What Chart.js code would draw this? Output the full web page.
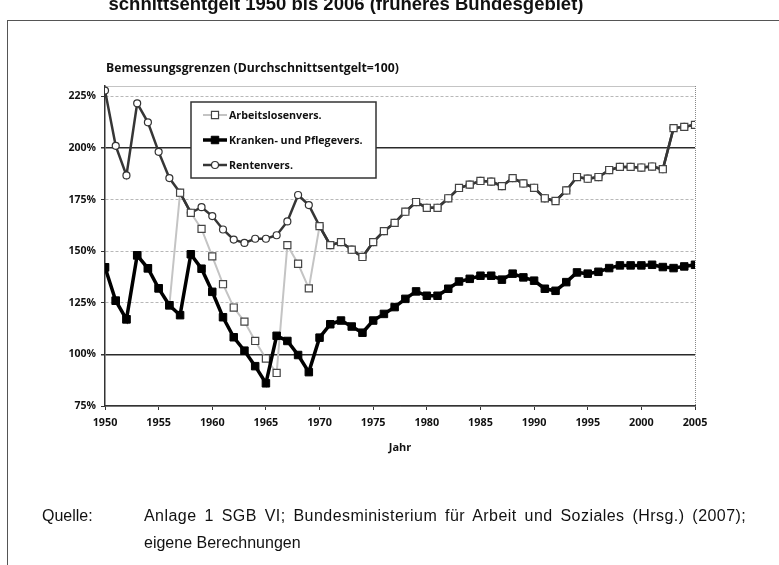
<!DOCTYPE html>
<html>
<head>
<meta charset="utf-8">
<script src="https://cdn.jsdelivr.net/npm/chart.js@4/dist/chart.umd.min.js"></script>
<style>
  body { margin: 0; background: #fff; }
  #wrap { position: relative; width: 779px; height: 565px; overflow: hidden; }
  canvas { position: absolute; left: 0; top: 0; }
  .txt { position: absolute; white-space: nowrap; color: #111; }
  #head { left: 0; width: 692px; text-align: center; top: -5px; font: bold 18.5px/18.5px "Liberation Sans", Arial, sans-serif; }
  #frameTop { position: absolute; left: 7px; top: 20px; width: 772px; height: 0; border-top: 1.5px solid #555; }
  #frameLeft { position: absolute; left: 7px; top: 20px; width: 0; height: 545px; border-left: 1.5px solid #555; }
  #sub { left: 106px; top: 59px; font: bold 12.2px "Open Sans", sans-serif; }
  #quelle { left: 42px; top: 502px; font: 16px/27px "Liberation Sans", Arial, sans-serif; }
  #quelle span { display: inline-block; width: 102px; }
  #quelle .l1 { letter-spacing: 0.45px; word-spacing: 3px; }
  #quelle .ind { padding-left: 102px; }
</style>
</head>
<body>
<div id="wrap">
  <canvas id="chart" width="779" height="565"></canvas>
  <div class="txt" id="head">schnittsentgelt 1950 bis 2006 (früheres Bundesgebiet)</div>
  <div id="frameTop"></div>
  <div id="frameLeft"></div>
  <div class="txt" id="sub">Bemessungsgrenzen (Durchschnittsentgelt=100)</div>
  <div class="txt" id="quelle"><span>Quelle:</span><span class="l1" style="width:auto">Anlage 1 SGB VI; Bundesministerium für Arbeit und Soziales (Hrsg.) (2007);</span><br><div class="ind">eigene Berechnungen</div></div>
</div>
<script>
// Jahre 1950-2005
const years = [];
for (let y = 1950; y <= 2005; y++) years.push(y);

// Werte in % des Durchschnittsentgelts
const renten = [227.8, 201, 186.7, 221.6, 212.4, 198.1, 185.4, 178.3, 168.6, 171.3,
  167, 160.5, 155.6, 154, 156, 156, 157.7, 164.4, 177.2, 172.3,
  162.1, 152.9, 154.4, 150.7, 147.2, 154.4, 159.7, 163.7, 169.1, 173.8,
  171, 171, 175.6, 180.6, 182.2, 184, 183.7, 181.5, 185.4, 182.8,
  180.7, 175.6, 174.3, 179.4, 185.9, 185.1, 185.9, 189.3, 190.8, 190.8,
  190.5, 191, 189.7, 209.6, 210.2, 211.2];

const kranken = [142.2, 126, 117, 148, 141.7, 132, 123.8, 119, 148.5, 141.5,
  130.3, 118, 108.3, 101.8, 94.3, 86, 109, 106.5, 99.7, 91.4,
  108.1, 114.6, 116.4, 113.5, 110.5, 116.4, 119.6, 122.9, 126.9, 130.5,
  128.4, 128.4, 131.8, 135.3, 136.6, 138.1, 138.1, 136.2, 139.1, 137.3,
  135.7, 131.8, 130.8, 135, 139.7, 139.1, 140, 141.8, 143.1, 143.1,
  143.1, 143.4, 142.3, 141.8, 142.6, 143.4];

const arbeitslosen = [142.2, 126, 117, 148, 141.7, 132, 123.8, 178.3, 168.6, 160.8,
  147.5, 134, 122.7, 115.9, 106.5, 98, 91, 152.9, 143.9, 132,
  162.1, 152.9, 154.4, 150.7, 147.2, 154.4, 159.7, 163.7, 169.1, 173.8,
  171, 171, 175.6, 180.6, 182.2, 184, 183.7, 181.5, 185.4, 182.8,
  180.7, 175.6, 174.3, 179.4, 185.9, 185.1, 185.9, 189.3, 190.8, 190.8,
  190.5, 191, 189.7, 209.6, 210.2, 211.2];

const seriesNames = ['Arbeitslosenvers.', 'Kranken- und Pflegevers.', 'Rentenvers.'];

const yTicks = [75, 100, 125, 150, 175, 200, 225];

const pts = arr => arr.map((v, i) => ({ x: years[i], y: v }));

const DARK = '#363636';
const LIGHT = '#c4c4c4';
const FONT = '"Open Sans"';

// Legende im Diagramm
const legendBox = {
  id: 'legendBox',
  afterDatasetsDraw(chart) {
    const ctx = chart.ctx;
    ctx.save();
    ctx.fillStyle = '#fff';
    ctx.strokeStyle = '#333';
    ctx.lineWidth = 1.5;
    ctx.fillRect(191, 102, 185, 76);
    ctx.strokeRect(191, 102, 185, 76);
    const rows = [115, 140, 165];
    [0, 1, 2].forEach((di, k) => {
      const ds = chart.data.datasets[di];
      const y = rows[k];
      ctx.beginPath();
      ctx.strokeStyle = ds.legendLine;
      ctx.lineWidth = ds.borderWidth;
      ctx.moveTo(203, y);
      ctx.lineTo(227, y);
      ctx.stroke();
      ctx.lineWidth = ds.pointBorderWidth;
      ctx.strokeStyle = ds.pointBorderColor;
      ctx.fillStyle = ds.pointBackgroundColor;
      ctx.beginPath();
      if (ds.pointStyle === 'circle') {
        ctx.arc(215, y, ds.pointRadius, 0, Math.PI * 2);
      } else {
        const s = ds.pointRadius * Math.SQRT1_2;
        ctx.rect(215 - s, y - s, 2 * s, 2 * s);
      }
      ctx.fill();
      ctx.stroke();
      ctx.fillStyle = '#111';
      ctx.font = 'bold 10.7px ' + FONT;
      ctx.textBaseline = 'middle';
      ctx.textAlign = 'left';
      ctx.fillText(seriesNames[di], 229, y + 1);
    });
    ctx.restore();
  }
};

new Chart(document.getElementById('chart'), {
  type: 'line',
  data: {
    datasets: [
      {
        label: seriesNames[0],
        data: pts(arbeitslosen),
        borderColor: LIGHT,
        legendLine: LIGHT,
        borderWidth: 2,
        segment: {
          borderColor: c => (arbeitslosen[c.p0DataIndex] === renten[c.p0DataIndex] &&
            arbeitslosen[c.p1DataIndex] === renten[c.p1DataIndex]) ? DARK : LIGHT,
          borderWidth: c => (arbeitslosen[c.p0DataIndex] === renten[c.p0DataIndex] &&
            arbeitslosen[c.p1DataIndex] === renten[c.p1DataIndex]) ? 2.5 : 2
        },
        pointStyle: 'rect',
        pointRadius: 5,
        pointBorderWidth: 1.2,
        pointBorderColor: '#444',
        pointBackgroundColor: '#fff',
        tension: 0,
        order: 2
      },
      {
        label: seriesNames[1],
        data: pts(kranken),
        borderColor: '#000',
        legendLine: '#000',
        borderWidth: 3.5,
        pointStyle: 'rect',
        pointRadius: 5.3,
        pointBorderWidth: 1,
        pointBorderColor: '#000',
        pointBackgroundColor: '#000',
        tension: 0,
        order: 1
      },
      {
        label: seriesNames[2],
        data: pts(renten),
        borderColor: DARK,
        legendLine: DARK,
        borderWidth: 2.5,
        pointStyle: 'circle',
        pointRadius: 3.5,
        pointBorderWidth: 1.2,
        pointBorderColor: '#333',
        pointBackgroundColor: '#fff',
        tension: 0,
        order: 3
      }
    ]
  },
  options: {
    responsive: false,
    devicePixelRatio: 1,
    animation: false,
    layout: { padding: { left: 0, right: 84, top: 86, bottom: 111 } },
    plugins: { legend: { display: false }, tooltip: { enabled: false } },
    scales: {
      x: {
        type: 'linear',
        min: 1950,
        max: 2005,
        afterFit: s => { s.height = 48; },
        ticks: {
          stepSize: 5,
          padding: 6,
          color: '#111',
          font: { family: FONT, weight: 'bold', size: 10.8 },
          callback: v => String(v)
        },
        grid: {
          color: c => c.tick && c.tick.value === 2005 ? '#888' : 'rgba(0,0,0,0)',
          tickColor: '#333',
          tickLength: 4,
          lineWidth: 1
        },
        border: { color: '#333', width: 1.5, dash: c => (c.tick && c.tick.value === 2005) ? [1, 1] : [] },
        title: {
          display: true,
          text: 'Jahr',
          color: '#111',
          font: { family: FONT, weight: 'bold', size: 11 },
          padding: { top: 0, bottom: 0 }
        }
      },
      y: {
        min: 75,
        max: 230,
        afterFit: s => { s.width = 105; },
        afterBuildTicks: s => { s.ticks = yTicks.concat([230]).map(v => ({ value: v })); },
        ticks: {
          padding: 5,
          color: '#111',
          font: { family: FONT, weight: 'bold', size: 10.5 },
          callback: v => v === 230 ? '' : v + '%'
        },
        grid: {
          color: c => {
            const v = c.tick && c.tick.value;
            if (v === 100 || v === 200) return '#2a2a2a';
            if (v === 230) return '#888';
            return '#b8b8b8';
          },
          lineWidth: c => {
            const v = c.tick && c.tick.value;
            return (v === 100 || v === 200) ? 1.5 : 1;
          },
          tickColor: c => (c.tick && c.tick.value === 230) ? 'rgba(0,0,0,0)' : '#333',
          tickLength: 4
        },
        border: {
          color: '#333',
          width: 1.5,
          dash: c => {
            const v = c.tick && c.tick.value;
            if (v === undefined || v === 100 || v === 200 || v === 75) return [];
            return v === 230 ? [1, 1] : [3, 2];
          }
        }
      }
    }
  },
  plugins: [legendBox]
});
</script>
</body>
</html>
